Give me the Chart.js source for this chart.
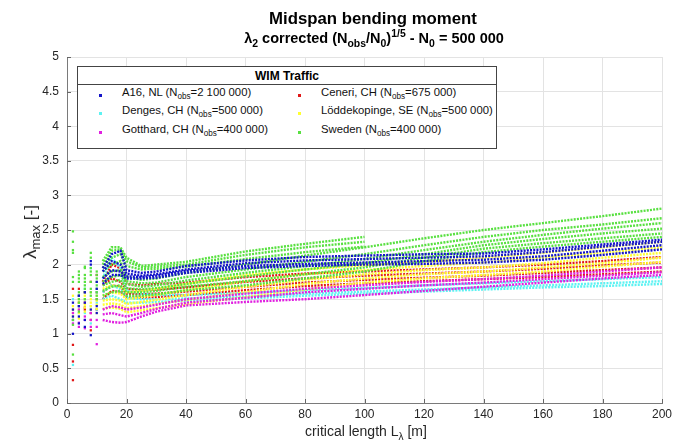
<!DOCTYPE html>
<html>
<head>
<meta charset="utf-8">
<script src="https://cdn.jsdelivr.net/npm/chart.js@4"></script>
<style>
  body { margin: 0; background: #fff; }
  #wrap { position: relative; width: 692px; height: 443px; font-family: "Liberation Sans", Arial, sans-serif; color: #262626; }
  canvas { position: absolute; left: 0; top: 0; }
  .txt { position: absolute; white-space: nowrap; }
  .title { left: 373px; top: 9px; transform: translateX(-50%); font-weight: bold; font-size: 16.8px; color: #000; }
  .subtitle { left: 374px; top: 30px; transform: translateX(-50%); font-weight: bold; font-size: 14.5px; color: #000; }
  .xtitle { left: 366px; top: 423px; transform: translateX(-50%); font-size: 14px; }
  .ytitle { left: 30px; top: 232px; transform: translate(-50%, -50%) rotate(-90deg); font-size: 17px; }
  sub, sup { font-size: 72%; line-height: 0; }
  #legend { position: absolute; left: 77px; top: 66px; width: 420px; height: 83px; border: 1px solid #444; background: #fff; box-sizing: border-box; font-size: 11.3px; color: #111; }
  #legend .lt { height: 17px; line-height: 18px; text-align: center; font-weight: bold; font-size: 12px; border-bottom: 1px solid #444; color: #000; }
  #legend .item { position: absolute; white-space: nowrap; }
  #legend .mk { position: absolute; width: 3px; height: 3px; }
</style>
</head>
<body>
<div id="wrap">
  <canvas id="c" width="692" height="443"></canvas>
  <div class="txt title">Midspan bending moment</div>
  <div class="txt subtitle">&lambda;<sub>2</sub> corrected (N<sub>obs</sub>/N<sub>0</sub>)<sup>1/5</sup> - N<sub>0</sub> = 500 000</div>
  <div class="txt xtitle">critical length L<sub>&lambda;</sub> [m]</div>
  <div class="txt ytitle"><span style="font-size:19px">&lambda;</span><sub style="font-size:13px">max</sub> [-]</div>
  <div id="legend"><div class="lt">WIM Traffic</div></div>
</div>
<script>
// critical lengths [m] at which the curves are read
const spans = [2, 4, 6, 8, 10, 12, 15, 18, 20, 25, 30, 40, 60, 80, 100, 120, 140, 160, 180, 200];

// lambda_max curves per site (one array per curve, same order as spans)
const a16 = [
  [1.45, 1.55, 1.2, 2.05, 1.75, 1.95, 2.15, 2.2, 1.92, 1.88, 1.9, 1.98, 2.06, 2.11, 2.13, 2.15, 2.16, 2.22, 2.29, 2.36],
  [1.35, 1.25, 1.1, 2.0, 1.65, 1.9, 2.05, 2.0, 1.87, 1.84, 1.86, 1.93, 2.02, 2.06, 2.08, 2.1, 2.12, 2.18, 2.26, 2.33],
  [1.0, 1.15, 1.45, 1.35, 1.4, 1.8, 1.92, 1.9, 1.83, 1.82, 1.84, 1.91, 1.98, 2.01, 2.03, 2.05, 2.07, 2.12, 2.2, 2.28],
  [1.25, 1.4, 1.6, 0.98, 1.3, 1.72, 1.85, 1.85, 1.8, 1.8, 1.81, 1.88, 1.95, 1.98, 2.0, 2.01, 2.03, 2.07, 2.14, 2.22]
];
const ceneri = [
  [0.84, 1.55, 1.45, 1.3, 1.85, 1.75, 2.0, 1.95, 1.72, 1.7, 1.72, 1.74, 1.82, 1.87, 1.9, 1.93, 1.96, 2.0, 2.05, 2.11],
  [0.6, 1.45, 1.38, 1.2, 1.6, 1.7, 1.8, 1.75, 1.65, 1.63, 1.64, 1.67, 1.75, 1.8, 1.84, 1.87, 1.9, 1.94, 1.99, 2.03],
  [0.33, 1.65, 1.6, 1.75, 1.5, 1.6, 1.7, 1.68, 1.58, 1.57, 1.58, 1.61, 1.68, 1.74, 1.78, 1.81, 1.84, 1.88, 1.92, 1.96],
  [1.65, 1.4, 1.35, 1.05, 1.35, 1.5, 1.62, 1.6, 1.52, 1.52, 1.53, 1.56, 1.63, 1.69, 1.73, 1.76, 1.79, 1.82, 1.86, 1.9]
];
const denges = [
  [1.5, 1.55, 1.65, 1.95, 1.6, 1.8, 2.1, 1.95, 1.62, 1.58, 1.56, 1.56, 1.59, 1.63, 1.66, 1.7, 1.73, 1.76, 1.79, 1.82],
  [0.55, 1.4, 1.5, 1.15, 1.45, 1.6, 1.7, 1.65, 1.52, 1.5, 1.5, 1.51, 1.54, 1.58, 1.61, 1.64, 1.67, 1.7, 1.73, 1.76],
  [1.2, 1.3, 1.3, 1.4, 1.35, 1.5, 1.55, 1.5, 1.45, 1.45, 1.46, 1.48, 1.51, 1.55, 1.58, 1.61, 1.64, 1.67, 1.69, 1.72]
];
const lodde = [
  [1.55, 1.5, 1.55, 1.6, 1.55, 1.65, 1.7, 1.68, 1.6, 1.62, 1.65, 1.72, 1.85, 1.93, 1.99, 2.04, 2.1, 2.17, 2.25, 2.33],
  [1.4, 1.45, 1.5, 1.5, 1.48, 1.55, 1.6, 1.58, 1.5, 1.53, 1.56, 1.63, 1.76, 1.86, 1.92, 1.98, 2.03, 2.1, 2.17, 2.25],
  [1.35, 1.35, 1.42, 1.45, 1.42, 1.48, 1.5, 1.48, 1.43, 1.46, 1.49, 1.56, 1.68, 1.78, 1.86, 1.92, 1.96, 2.02, 2.1, 2.17],
  [1.3, 1.3, 1.38, 1.4, 1.36, 1.42, 1.44, 1.42, 1.37, 1.4, 1.43, 1.49, 1.6, 1.72, 1.8, 1.86, 1.9, 1.96, 2.02, 2.1],
  [1.25, 1.22, 1.32, 1.35, 1.3, 1.36, 1.38, 1.36, 1.31, 1.34, 1.37, 1.43, 1.53, 1.64, 1.74, 1.8, 1.85, 1.9, 1.97, 2.04]
];
const gotthard = [
  [1.3, 1.35, 1.25, 1.3, 1.2, 1.35, 1.4, 1.38, 1.35, 1.38, 1.42, 1.5, 1.58, 1.65, 1.7, 1.75, 1.79, 1.84, 1.9, 1.96],
  [1.2, 1.16, 1.2, 1.2, 1.1, 1.28, 1.3, 1.27, 1.25, 1.3, 1.36, 1.45, 1.52, 1.6, 1.65, 1.7, 1.74, 1.79, 1.84, 1.89],
  [1.15, 1.1, 1.08, 1.1, 0.85, 1.2, 1.17, 1.16, 1.17, 1.25, 1.32, 1.41, 1.46, 1.5, 1.56, 1.62, 1.68, 1.74, 1.8, 1.85]
];
const sweden = [
  [2.48, 1.9, 1.95, 2.17, 1.9, 2.05, 2.25, 2.25, 2.1, 1.98, 2.0, 2.04, 2.19, 2.3, 2.4, null, null, null, null, null],
  [2.33, 1.85, 1.85, 2.1, 1.85, 2.0, 2.2, 2.22, 2.05, 1.96, 1.97, 2.0, 2.14, 2.25, 2.33, null, null, null, null, null],
  [2.21, 1.8, 1.8, 1.95, 1.8, 1.95, 2.1, 2.15, 1.98, 1.93, 1.94, 1.97, 2.08, 2.18, 2.26, null, null, null, null, null],
  [2.17, 1.75, 1.97, 1.9, 1.75, 1.9, 2.0, 2.05, 1.82, 1.78, 1.8, 1.88, 2.0, 2.13, 2.25, 2.38, 2.5, 2.6, 2.7, 2.81],
  [1.82, 1.6, 1.75, 1.85, 1.7, 1.82, 1.9, 1.92, 1.76, 1.73, 1.74, 1.82, 1.93, 2.04, 2.15, 2.28, 2.4, 2.5, 2.58, 2.67],
  [1.75, 1.55, 1.7, 1.75, 1.65, 1.75, 1.82, 1.85, 1.72, 1.68, 1.7, 1.77, 1.88, 1.98, 2.08, 2.21, 2.33, 2.43, 2.52, 2.6],
  [1.2, 1.5, 1.65, 1.65, 1.6, 1.7, 1.75, 1.78, 1.66, 1.64, 1.66, 1.72, 1.83, 1.93, 2.02, 2.15, 2.28, 2.37, 2.45, 2.52],
  [0.7, 1.45, 1.6, 1.6, 1.55, 1.62, 1.68, 1.7, 1.6, 1.6, 1.62, 1.68, 1.76, 1.86, 1.96, 2.1, 2.23, 2.31, 2.38, 2.45],
  [1.13, 1.32, 1.5, 1.55, 1.5, 1.55, 1.6, 1.62, 1.55, 1.55, 1.57, 1.63, 1.7, 1.8, 1.9, 2.05, 2.18, 2.26, 2.33, 2.4]
];

const siteNames = ["A16, NL", "Ceneri, CH", "Denges, CH", "Löddekopinge, SE", "Gotthard, CH", "Sweden"];
const siteNobs = ["2 100 000", "675 000", "500 000", "500 000", "400 000", "400 000"];
const siteColors = ["#1414c8", "#e01818", "#5cf2f2", "#ffff30", "#e020e0", "#58e040"];
const siteCurves = [a16, ceneri, denges, lodde, gotthard, sweden];
// drawing order per site (lower = drawn on top)
const siteOrder = [0, 5, 4, 3, 2, 1];

const yTicks = [0, 0.5, 1, 1.5, 2, 2.5, 3, 3.5, 4, 4.5, 5];
const xTicks = [0, 20, 40, 60, 80, 100, 120, 140, 160, 180, 200];

const datasets = [];
siteCurves.forEach((curves, s) => {
  curves.forEach(vals => {
    const pts = [];
    vals.forEach((v, i) => { if (v !== null) pts.push({ x: spans[i], y: v }); });
    datasets.push({
      label: siteNames[s],
      data: pts,
      borderColor: siteColors[s],
      backgroundColor: siteColors[s],
      borderWidth: 2.4,
      borderDash: [2, 1.2],
      pointStyle: "rect",
      pointBorderWidth: 0,
      pointRadius: c => (c.raw && c.raw.x <= 10 ? 1.6 : 0),
      order: siteOrder[s],
      segment: {
        borderColor: c => (c.p0.parsed.x <= 10 ? "rgba(0,0,0,0)" : undefined)
      }
    });
  });
});

// small inward ticks like the original axes
const innerTicks = {
  id: "innerTicks",
  afterDatasetsDraw(chart) {
    const { ctx, scales: { x, y } } = chart;
    ctx.save();
    ctx.strokeStyle = "#666";
    ctx.lineWidth = 1;
    ctx.beginPath();
    xTicks.forEach(t => {
      const px = Math.round(x.getPixelForValue(t)) + 0.5;
      ctx.moveTo(px, y.bottom); ctx.lineTo(px, y.bottom - 4);
    });
    yTicks.forEach(t => {
      const py = Math.round(y.getPixelForValue(t)) + 0.5;
      ctx.moveTo(x.left, py); ctx.lineTo(x.left + 4, py);
    });
    ctx.stroke();
    ctx.restore();
  }
};

new Chart(document.getElementById("c").getContext("2d"), {
  type: "line",
  data: { datasets },
  options: {
    responsive: false,
    animation: false,
    devicePixelRatio: 1,
    layout: { padding: { left: 0, right: 30, top: 57, bottom: 0 } },
    scales: {
      x: {
        type: "linear",
        min: 0,
        max: 200,
        afterFit: s => { s.height = 40; },
        afterBuildTicks: s => { s.ticks = xTicks.map(v => ({ value: v })); },
        ticks: { color: "#262626", font: { family: "Liberation Sans", size: 12 }, padding: 4, maxRotation: 0 },
        grid: { color: "#e3e3e3", drawTicks: false },
        border: { color: "#7a7a7a" }
      },
      y: {
        min: 0,
        max: 5,
        afterFit: s => { s.width = 67; },
        afterBuildTicks: s => { s.ticks = yTicks.map(v => ({ value: v })); },
        ticks: { color: "#262626", font: { family: "Liberation Sans", size: 12 }, padding: 8, callback: v => String(v) },
        grid: { color: "#e3e3e3", drawTicks: false },
        border: { color: "#7a7a7a" }
      }
    },
    plugins: { legend: { display: false }, tooltip: { enabled: false } }
  },
  plugins: [innerTicks]
});

// legend box with subscripts (two columns, row-major like the original)
const legend = document.getElementById("legend");
const colX = [22, 221];
const rowY = [28, 46, 65];
siteNames.forEach((name, i) => {
  const col = i % 2, row = Math.floor(i / 2);
  const mk = document.createElement("div");
  mk.className = "mk";
  mk.style.background = siteColors[i];
  mk.style.left = (colX[col] - 1) + "px";
  mk.style.top = (rowY[row] - 1) + "px";
  legend.appendChild(mk);
  const it = document.createElement("div");
  it.className = "item";
  it.style.left = (colX[col] + 22) + "px";
  it.style.top = (rowY[row] - 9) + "px";
  it.innerHTML = name + " (N<sub>obs</sub>=" + siteNobs[i] + ")";
  legend.appendChild(it);
});
</script>
</body>
</html>
